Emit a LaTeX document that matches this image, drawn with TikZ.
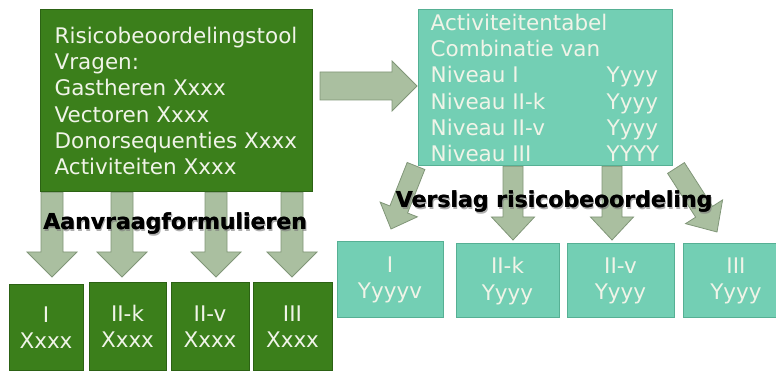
\documentclass[tikz,border=0pt]{standalone}
\usepackage{fontspec}
\setmainfont{DejaVu Sans}
\usetikzlibrary{calc}

\definecolor{boxgreen}{RGB}{59,127,27}
\definecolor{boxgreenedge}{RGB}{44,98,20}
\definecolor{boxteal}{RGB}{115,207,180}
\definecolor{boxtealedge}{RGB}{86,176,148}
\definecolor{arrowfill}{RGB}{170,191,160}
\definecolor{arrowedge}{RGB}{128,150,120}
\definecolor{boxtext}{RGB}{240,244,232}
\definecolor{labelshadow}{RGB}{120,120,120}

\tikzset{
  boxfont/.style={font=\fontsize{21.5}{26.2}\selectfont},
  greenbox/.style={draw=boxgreenedge, fill=boxgreen, line width=1pt,
    text=boxtext, inner sep=0pt, align=center, boxfont},
  tealbox/.style={draw=boxtealedge, fill=boxteal, line width=1pt,
    text=boxtext, inner sep=0pt, align=center, boxfont},
  flowarrow/.style={draw=arrowedge, fill=arrowfill, line width=0.8pt, line join=miter},
  biglabel/.style={font=\fontsize{22}{26}\selectfont\bfseries, text=black, inner sep=0pt},
  labelshade/.style={biglabel, text=labelshadow, opacity=0.6}
}

% block arrow: start, tip, body half width, head half width, head length
\newcommand\blockarrow[5]{%
  \coordinate (ba-h) at ($(#2)!#5!(#1)$);
  \draw[flowarrow] ($(#1)!#3!90:(#2)$) -- ($(ba-h)!#3!90:(#2)$)
    -- ($(ba-h)!#4!90:(#2)$) -- (#2) -- ($(ba-h)!#4!-90:(#2)$)
    -- ($(ba-h)!#3!-90:(#2)$) -- ($(#1)!#3!-90:(#2)$) -- cycle;
}

% heavy caption with a soft drop shadow
\newcommand\heavylabel[3]{%
  \node[labelshade] at ($(#1)+(1.3,-1.3)$) {#3};
  \node[biglabel] at ($(#1)+(0.4,0)$) {#3};
  \node[biglabel] (#2) at (#1) {#3};
}

\begin{document}
\begin{tikzpicture}[x=1pt, y=1pt]
\useasboundingbox (0,0) rectangle (776,372);

% frames of the two main boxes, used to anchor the arrows
\path (176,271) node[minimum width=272pt, minimum height=182pt, inner sep=0pt] (tool) {};
\path (545,284) node[minimum width=254pt, minimum height=156pt, inner sep=0pt] (table) {};

% arrows (drawn below the boxes)
\coordinate (ra-s) at (320,286);
\coordinate (ra-t) at (417,286);
\blockarrow{ra-s}{ra-t}{14pt}{25pt}{25pt}

\foreach \i/\x in {1/52, 2/122, 3/216, 4/292} {
  \coordinate (ga\i-t) at (\x,95);
  \coordinate (ga\i-s) at (ga\i-t |- tool.south);
  \blockarrow{ga\i-s}{ga\i-t}{11pt}{25pt}{25pt}
}

\foreach \i/\x in {2/513, 3/612} {
  \coordinate (ta\i-t) at (\x,132);
  \coordinate (ta\i-s) at (ta\i-t |- table.south);
  \blockarrow{ta\i-s}{ta\i-t}{10pt}{21.5pt}{23pt}
}
\coordinate (ta1-s) at (416,206);
\coordinate (ta1-t) at (391,143);
\blockarrow{ta1-s}{ta1-t}{9.5pt}{20pt}{21pt}
\coordinate (ta4-s) at (676,204);
\coordinate (ta4-t) at (717,140);
\blockarrow{ta4-s}{ta4-t}{10pt}{22pt}{24pt}

% boxes
\node[greenbox, minimum width=272pt, minimum height=182pt, align=left] at (tool)
  {Risicobeoordelingstool\\Vragen:\\Gastheren Xxxx\\Vectoren Xxxx\\Donorsequenties Xxxx\\Activiteiten Xxxx};
\node[tealbox, minimum width=254pt, minimum height=156pt, align=left] at (table)
  {Activiteitentabel\\Combinatie van\\
   \makebox[176pt][l]{Niveau I}Yyyy\\
   \makebox[176pt][l]{Niveau II-k}Yyyy\\
   \makebox[176pt][l]{Niveau II-v}Yyyy\\
   \makebox[176pt][l]{Niveau III}YYYY};

\node[greenbox, minimum width=74pt, minimum height=85pt] (g1) at (46,44.5) {I\\Xxxx};
\node[greenbox, minimum width=77pt, minimum height=87pt] (g2) at (127.5,45.5) {II-k\\Xxxx};
\node[greenbox, minimum width=78pt, minimum height=87pt] (g3) at (210,45.5) {II-v\\Xxxx};
\node[greenbox, minimum width=79pt, minimum height=87pt] (g4) at (292.5,45.5) {III\\Xxxx};

\node[tealbox, minimum width=106pt, minimum height=76pt] (t1) at (390,92) {I\\Yyyyv};
\node[tealbox, minimum width=103pt, minimum height=74pt] (t2) at (507.5,91) {II-k\\Yyyy};
\node[tealbox, minimum width=107pt, minimum height=74pt] (t3) at (620.5,91) {II-v\\Yyyy};
\node[tealbox, minimum width=106pt, minimum height=74pt] (t4) at (736,91) {III\\Yyyy};

% captions
\coordinate (formpos) at (175,148);
\coordinate (reportpos) at (554,170);
\heavylabel{formpos}{formlabel}{Aanvraagformulieren}
\heavylabel{reportpos}{reportlabel}{Verslag risicobeoordeling}
\end{tikzpicture}
\end{document}
